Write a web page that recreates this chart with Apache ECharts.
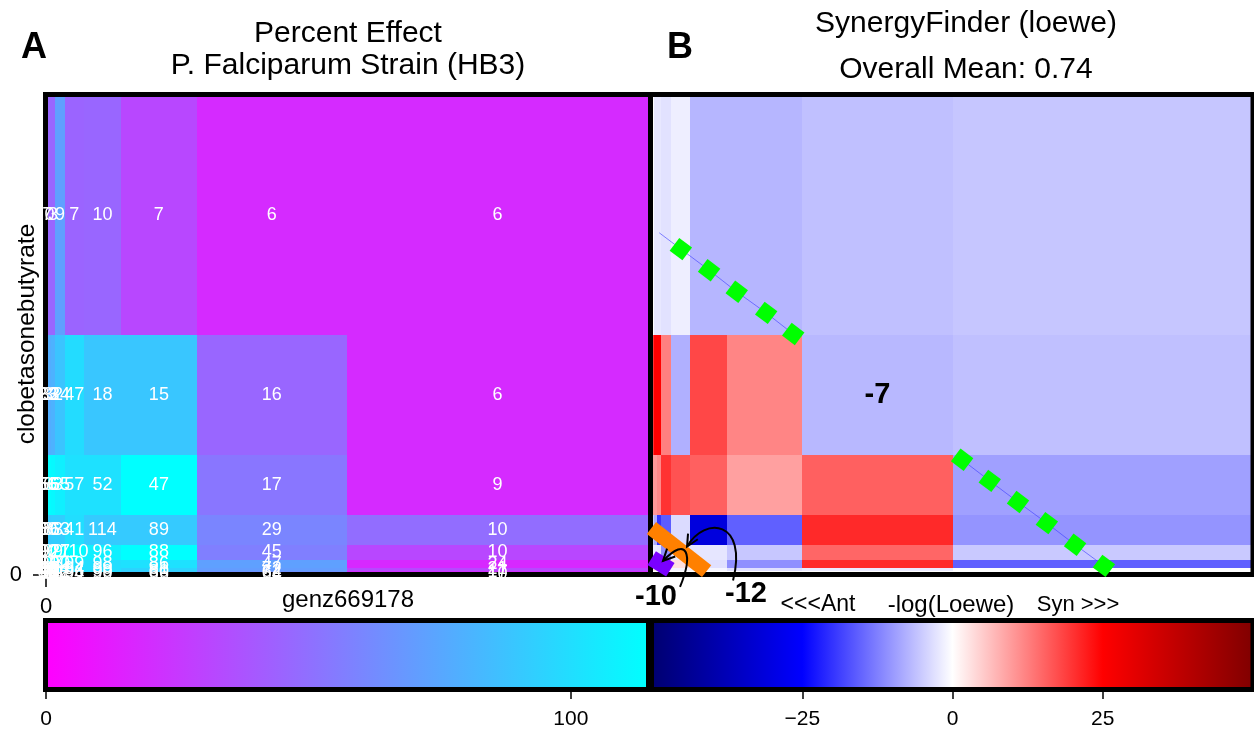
<!DOCTYPE html>
<html>
<head>
<meta charset="utf-8">
<script src="https://cdn.jsdelivr.net/npm/echarts@6/dist/echarts.min.js"></script>
<style>
  html, body { margin: 0; padding: 0; background: #ffffff; }
  #chart { width: 1254px; height: 732px; }
</style>
</head>
<body>
<div id="chart"></div>
<script>
// Two-fold dilution series: upper edge of each dose bin, lowest to highest
const genzDoses = [0.039, 0.078, 0.156, 0.3125, 0.625, 1.25, 2.5, 5, 10];
const clobDoses = [0.039, 0.078, 0.156, 0.3125, 0.625, 1.25, 2.5, 5, 10];

// Rows: highest clobetasone butyrate dose first; columns: lowest genz669178 dose first
const percentEffect = [
  [60, 46, 46, 72, 45, 46, 32, 19, 19],
  [80, 78, 80, 88, 99, 89, 89, 46, 19],
  [110, 114, 112, 108, 101, 101, 115, 53, 19],
  [90, 90, 92, 92, 100, 91, 91, 60, 49],
  [110, 112, 114, 112, 114, 108, 115, 57, 32],
  [100, 100, 100, 100, 100, 100, 101, 72, 18],
  [100, 100, 100, 100, 100, 100, 95, 70, 32],
  [98, 98, 98, 98, 98, 98, 90, 65, 20],
  [96, 96, 96, 96, 96, 96, 88, 60, 25]
];
const effectLabels = [
  [7, 0, 3, 9, 7, 10, 7, 6, 6],
  [23, 33, 32, 24, 47, 18, 15, 16, 6],
  [56, 55, 63, 65, 57, 52, 47, 17, 9],
  [60, 86, 83, 63, 41, 114, 89, 29, 10],
  [90, 92, 99, 27, 110, 96, 88, 45, 10],
  [94, 99, 97, 90, 99, 98, 86, 47, 24],
  [91, 95, 96, 94, 94, 99, 81, 72, 21],
  [99, 97, 90, 92, 96, 99, 80, 62, 17],
  [96, 94, 99, 97, 94, 90, 66, 64, 10]
];
const loeweScores = [
  [0, -2.3, -2.3, -2.8, -1.7, -7.2, -7.2, -6.2, -5.6],
  [20, 25, 25, 12.5, -7.7, 18, 12, -7, -6.2],
  [10, 10, 11.5, 20, 17, 15.6, 9.3, 15.6, -9.3],
  [-5, -8, -20, -16, -3.5, -31, -15.6, 21, -10.5],
  [-2, -2, -2.5, -11, -2, -2.5, -5.5, 15, -5.3],
  [3, 4, 4.5, 4, 3, -3, -11, 21, -15.6],
  [2, 2, 2, 1, -1, -1, -3, -2, 0],
  [0, 0, 0, 0, 0, 0, 0, 0, 0],
  [0, 0, 0, 0, 0, 0, 0, 0, 0]
];
// Cells whose score is printed on the synergy map: [row, column]
const labelledScoreCells = [[1, 7]];

// Ridges of the synergy surface (genz dose, clobetasone dose)
const ridge1X = [0.12, 0.48, 0.95, 1.41, 1.90, 2.35];
const ridge1Y = [7.13, 6.79, 6.35, 5.90, 5.46, 5.02];
const ridge2X = [5.16, 5.62, 6.09, 6.57, 7.04, 7.52];
const ridge2Y = [2.40, 1.96, 1.52, 1.08, 0.63, 0.19];

// Most antagonistic spots
const peakX = [0.45, 0.15];
const peakY = [0.53, 0.23];
const peakValues = [-12, -10];

// Colour scale ranges and tick labels
const effectRange = [0, 114.7];
const effectTicks = [0, 100];
const scoreRange = [-50, 50];
const scoreTicks = [-25, 0, 25];
const doseAxisTicks = [0];

const FONT = '"Liberation Sans", Arial, Helvetica, sans-serif';

function hex2rgb(h) {
  return [parseInt(h.slice(1, 3), 16), parseInt(h.slice(3, 5), 16), parseInt(h.slice(5, 7), 16)];
}
function rampColor(stops, v) {
  if (v <= stops[0][0]) return stops[0][1];
  if (v >= stops[stops.length - 1][0]) return stops[stops.length - 1][1];
  for (let i = 1; i < stops.length; i++) {
    if (v <= stops[i][0]) {
      const t = (v - stops[i - 1][0]) / (stops[i][0] - stops[i - 1][0]);
      const a = hex2rgb(stops[i - 1][1]), b = hex2rgb(stops[i][1]);
      const c = a.map((ch, k) => Math.round(ch + (b[k] - ch) * t));
      return 'rgb(' + c.join(',') + ')';
    }
  }
}
const effectStops = [[effectRange[0], '#ff00ff'], [effectRange[1], '#00ffff']];
const scoreStops = [[-50, '#000070'], [-25, '#0000ff'], [0, '#ffffff'], [25, '#ff0000'], [50, '#800000']];

function binLo(doses, k) { return k === 0 ? 0 : doses[k - 1]; }
function cellData(matrix) {
  const out = [];
  const n = clobDoses.length;
  matrix.forEach((row, i) => {
    const k = n - 1 - i;
    row.forEach((v, j) => {
      out.push([binLo(genzDoses, j), genzDoses[j], binLo(clobDoses, k), clobDoses[k], v]);
    });
  });
  return out;
}
function centreData(matrix, keep) {
  const out = [];
  const n = clobDoses.length;
  matrix.forEach((row, i) => {
    const k = n - 1 - i;
    row.forEach((v, j) => {
      if (keep && !keep(i, j)) return;
      out.push([(binLo(genzDoses, j) + genzDoses[j]) / 2, (binLo(clobDoses, k) + clobDoses[k]) / 2, v]);
    });
  });
  return out;
}

function cellRenderer(stops) {
  return function (params, api) {
    const a = api.coord([api.value(0), api.value(3)]);
    const b = api.coord([api.value(1), api.value(2)]);
    const L = Math.round(a[0]), T = Math.round(a[1]), R = Math.round(b[0]), B = Math.round(b[1]);
    return {
      type: 'rect',
      shape: { x: L, y: T, width: Math.max(R - L, 1), height: Math.max(B - T, 1) },
      style: { fill: rampColor(stops, api.value(4)) }
    };
  };
}
function textRenderer(font, fill) {
  return function (params, api) {
    const p = api.coord([api.value(0), api.value(1)]);
    return {
      type: 'text',
      x: p[0], y: p[1],
      style: {
        text: String(api.value(2)), font: font, fill: fill,
        align: 'center', verticalAlign: 'middle', textAlign: 'center', textVerticalAlign: 'middle'
      }
    };
  };
}

// Look of the two antagonism markers and their callouts (pixel offsets from the marker)
const peakLook = [
  { fill: '#ff8000', w: 70, h: 15, rot: -38, label: [67, 44],
    arrow: [[54, 31], [69, -29], [26, -34], [8, -3]] },
  { fill: '#7a00ff', w: 22, h: 16, rot: -32, label: [-5, 33],
    arrow: [[19, 23], [32, -9], [27, -29], [2, -3]] }
];
function peakRenderer(params, api) {
  const i = params.dataIndex;
  const look = peakLook[i];
  const c = api.coord([api.value(0), api.value(1)]);
  const ar = look.arrow.map(o => [c[0] + o[0], c[1] + o[1]]);
  const tip = ar[3];
  const dx = tip[0] - ar[2][0], dy = tip[1] - ar[2][1];
  const ang = Math.atan2(dy, dx);
  const len = 13, spread = 0.45;
  const h1 = [tip[0] - len * Math.cos(ang - spread), tip[1] - len * Math.sin(ang - spread)];
  const h2 = [tip[0] - len * Math.cos(ang + spread), tip[1] - len * Math.sin(ang + spread)];
  return {
    type: 'group',
    children: [
      {
        type: 'rect', x: c[0], y: c[1], rotation: look.rot * Math.PI / 180,
        shape: { x: -look.w / 2, y: -look.h / 2, width: look.w, height: look.h },
        style: { fill: look.fill }, z2: i
      },
      {
        type: 'bezierCurve',
        shape: { x1: ar[0][0], y1: ar[0][1], cpx1: ar[1][0], cpy1: ar[1][1],
                 cpx2: ar[2][0], cpy2: ar[2][1], x2: tip[0], y2: tip[1] },
        style: { stroke: '#000', lineWidth: 2, fill: null }, z2: 10
      },
      {
        type: 'polyline', shape: { points: [h1, tip, h2] },
        style: { stroke: '#000', lineWidth: 2, fill: null }, z2: 10
      },
      {
        type: 'text', x: c[0] + look.label[0], y: c[1] + look.label[1],
        style: { text: String(api.value(2)), font: 'bold 29px ' + FONT, fill: '#000',
                 align: 'center', verticalAlign: 'middle', textAlign: 'center', textVerticalAlign: 'middle' },
        z2: 11
      }
    ]
  };
}
function barRenderer(stops) {
  return function (params, api) {
    const a = api.coord([api.value(0), 1]);
    const b = api.coord([api.value(1), 0]);
    const lo = stops[0][0], hi = stops[stops.length - 1][0];
    return {
      type: 'rect',
      shape: { x: a[0], y: a[1], width: b[0] - a[0], height: b[1] - a[1] },
      style: {
        fill: new echarts.graphic.LinearGradient(0, 0, 1, 0,
          stops.map(s => ({ offset: (s[0] - lo) / (hi - lo), color: s[1] })))
      }
    };
  };
}

const chart = echarts.init(document.getElementById('chart'), null, { renderer: 'canvas', width: 1254, height: 732 });

const hiddenAxis = { show: false };
const tickStyle = { show: true, inside: false, length: 12, lineStyle: { color: '#000', width: 1.5 } };
const labelStyle = { color: '#000', fontFamily: FONT };
function minusFmt(v) { return v < 0 ? '\u2212' + Math.abs(v) : String(v); }

const gridBase = { containLabel: false, outerBoundsMode: 'none', show: false };

function centredText(x, y, text, font, extra) {
  return Object.assign({
    type: 'text', z: 10, x: x, y: y, silent: true,
    style: { text: text, font: font, fill: '#000', align: 'center', verticalAlign: 'middle',
             textAlign: 'center', textVerticalAlign: 'middle' }
  }, extra || {});
}

const option = {
  animation: false,
  backgroundColor: '#ffffff',
  grid: [
    Object.assign({ left: 46, top: 95, width: 602, height: 480 }, gridBase),
    Object.assign({ left: 652, top: 95, width: 601, height: 480 }, gridBase),
    Object.assign({ left: 46, top: 623, width: 602, height: 64 }, gridBase),
    Object.assign({ left: 652, top: 623, width: 601, height: 64 }, gridBase)
  ],
  xAxis: [
    { gridIndex: 0, type: 'value', min: 0, max: genzDoses[genzDoses.length - 1], interval: 10,
      axisLine: { show: false }, splitLine: { show: false },
      axisTick: Object.assign({ customValues: doseAxisTicks }, tickStyle),
      axisLabel: Object.assign({ customValues: doseAxisTicks, fontSize: 22, margin: 21 }, labelStyle) },
    Object.assign({ gridIndex: 1, type: 'value', min: 0, max: genzDoses[genzDoses.length - 1] }, hiddenAxis),
    { gridIndex: 2, type: 'value', min: effectRange[0], max: effectRange[1], interval: 100,
      axisLine: { show: false }, splitLine: { show: false },
      axisTick: Object.assign({ customValues: effectTicks }, tickStyle),
      axisLabel: Object.assign({ customValues: effectTicks, fontSize: 21, margin: 22 }, labelStyle) },
    { gridIndex: 3, type: 'value', min: scoreRange[0], max: scoreRange[1], interval: 25,
      axisLine: { show: false }, splitLine: { show: false },
      axisTick: Object.assign({ customValues: scoreTicks }, tickStyle),
      axisLabel: Object.assign({ customValues: scoreTicks, fontSize: 21, margin: 22, formatter: minusFmt }, labelStyle) }
  ],
  yAxis: [
    { gridIndex: 0, type: 'value', min: 0, max: clobDoses[clobDoses.length - 1], interval: 10,
      axisLine: { show: false }, splitLine: { show: false },
      axisTick: Object.assign({ customValues: doseAxisTicks }, tickStyle, { length: 13 }),
      axisLabel: Object.assign({ customValues: doseAxisTicks, fontSize: 22, margin: 24 }, labelStyle) },
    Object.assign({ gridIndex: 1, type: 'value', min: 0, max: clobDoses[clobDoses.length - 1] }, hiddenAxis),
    Object.assign({ gridIndex: 2, type: 'value', min: 0, max: 1 }, hiddenAxis),
    Object.assign({ gridIndex: 3, type: 'value', min: 0, max: 1 }, hiddenAxis)
  ],
  series: [
    { type: 'custom', name: 'Percent effect', xAxisIndex: 0, yAxisIndex: 0, z: 1,
      encode: { x: [0, 1], y: [2, 3] },
      data: cellData(percentEffect), renderItem: cellRenderer(effectStops) },
    { type: 'custom', name: 'Effect labels', xAxisIndex: 0, yAxisIndex: 0, z: 5, clip: false,
      data: centreData(effectLabels), renderItem: textRenderer('18px ' + FONT, '#ffffff') },
    { type: 'custom', name: 'Loewe score', xAxisIndex: 1, yAxisIndex: 1, z: 1,
      encode: { x: [0, 1], y: [2, 3] },
      data: cellData(loeweScores), renderItem: cellRenderer(scoreStops) },
    { type: 'custom', name: 'Score labels', xAxisIndex: 1, yAxisIndex: 1, z: 5, clip: false,
      data: centreData(loeweScores, (i, j) => labelledScoreCells.some(c => c[0] === i && c[1] === j)),
      renderItem: textRenderer('bold 29px ' + FONT, '#000000') },
    { type: 'line', name: 'Ridge 1', xAxisIndex: 1, yAxisIndex: 1, z: 6, clip: false,
      data: ridge1X.map((x, i) => [x, ridge1Y[i]]), symbol: 'none', silent: true,
      lineStyle: { color: '#3c3cff', width: 1, opacity: 0.6 } },
    { type: 'line', name: 'Ridge 2', xAxisIndex: 1, yAxisIndex: 1, z: 6, clip: false,
      data: ridge2X.map((x, i) => [x, ridge2Y[i]]), symbol: 'none', silent: true,
      lineStyle: { color: '#3c3cff', width: 1, opacity: 0.6 } },
    { type: 'scatter', name: 'Ridge points', xAxisIndex: 1, yAxisIndex: 1, z: 7, clip: false,
      data: ridge1X.slice(1).map((x, i) => [x, ridge1Y[i + 1]])
              .concat(ridge2X.map((x, i) => [x, ridge2Y[i]])),
      symbol: 'rect', symbolSize: 16, symbolRotate: -37,
      itemStyle: { color: '#00ff00', opacity: 1 } },
    { type: 'custom', name: 'Antagonism peaks', xAxisIndex: 1, yAxisIndex: 1, z: 8, clip: false,
      data: peakX.map((x, i) => [x, peakY[i], peakValues[i]]), renderItem: peakRenderer },
    { type: 'custom', name: 'Effect scale', xAxisIndex: 2, yAxisIndex: 2, z: 1,
      data: [[effectRange[0], effectRange[1]]], renderItem: barRenderer(effectStops) },
    { type: 'custom', name: 'Score scale', xAxisIndex: 3, yAxisIndex: 3, z: 1,
      data: [[scoreRange[0], scoreRange[1]]], renderItem: barRenderer(scoreStops) }
  ],
  graphic: [
    // frames
    { type: 'rect', z: 3, silent: true, shape: { x: 45.5, y: 94.5, width: 1207.5, height: 480 },
      style: { fill: null, stroke: '#000', lineWidth: 5 } },
    { type: 'line', z: 3, silent: true, shape: { x1: 650.5, y1: 92, x2: 650.5, y2: 577 },
      style: { stroke: '#000', lineWidth: 5 } },
    { type: 'rect', z: 3, silent: true, shape: { x: 45.5, y: 620.5, width: 1207.5, height: 69 },
      style: { fill: null, stroke: '#000', lineWidth: 5 } },
    { type: 'line', z: 3, silent: true, shape: { x1: 650, y1: 618, x2: 650, y2: 692 },
      style: { stroke: '#000', lineWidth: 8 } },
    // panel letters, titles and axis names
    centredText(34, 48, 'A', 'bold 36px ' + FONT),
    centredText(680, 48, 'B', 'bold 36px ' + FONT),
    centredText(348, 34, 'Percent Effect', '30px ' + FONT),
    centredText(348, 66, 'P. Falciparum Strain (HB3)', '30px ' + FONT),
    centredText(966, 24, 'SynergyFinder (loewe)', '30px ' + FONT),
    centredText(966, 70, 'Overall Mean: 0.74', '30px ' + FONT),
    centredText(348, 600, 'genz669178', '24px ' + FONT),
    centredText(27, 334, 'clobetasonebutyrate', '24.5px ' + FONT, { rotation: Math.PI / 2 }),
    centredText(818, 605, '<<<Ant', '23px ' + FONT),
    centredText(951, 605, '-log(Loewe)', '24px ' + FONT),
    centredText(1078, 605, 'Syn >>>', '22px ' + FONT)
  ]
};
chart.setOption(option);
</script>
</body>
</html>
